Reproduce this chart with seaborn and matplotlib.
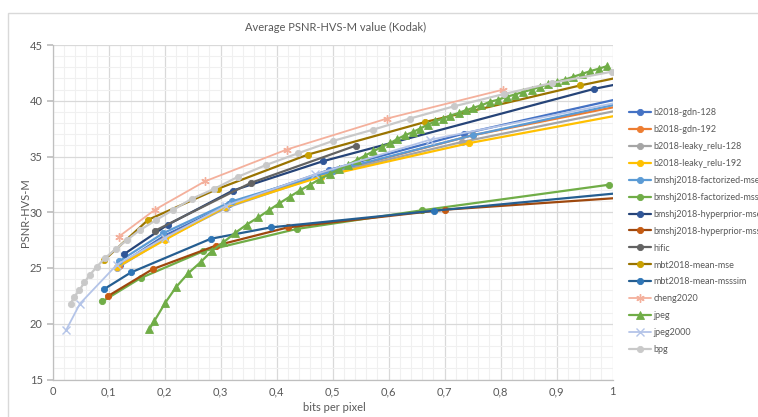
import matplotlib
matplotlib.use("Agg")
import matplotlib.pyplot as plt
import matplotlib.patches as mpatches
from matplotlib.ticker import MultipleLocator, FuncFormatter
import seaborn as sns
import pandas as pd

# ---------------- data ----------------
gdn128_bpp = [0.12, 0.20, 0.315, 0.494, 0.735, 1.08]
gdn128_val = [25.3, 27.9, 30.7, 33.8, 37.06, 40.95]

gdn192_bpp = [0.118, 0.20, 0.31, 0.49, 0.75, 1.08]
gdn192_val = [25.2, 27.7, 30.5, 33.5, 36.9, 40.2]

leaky128_bpp = [0.115, 0.20, 0.31, 0.48, 0.731, 1.08]
leaky128_val = [25.0, 27.6, 30.4, 33.3, 36.3, 39.85]

leaky192_bpp = [0.1146, 0.20, 0.308, 0.48, 0.744, 1.08]
leaky192_val = [25.08, 27.5, 30.47, 33.2, 36.2, 39.35]

factmse_bpp = [0.119, 0.198, 0.32, 0.50, 0.75, 1.08]
factmse_val = [25.6, 28.13, 30.97, 33.7, 36.9, 40.46]

factmsssim_bpp = [0.089, 0.1575, 0.269, 0.436, 0.659, 0.994]
factmsssim_val = [22.0, 24.1, 26.5, 28.5, 30.17, 32.47]

hypmse_bpp = [0.128, 0.2057, 0.3218, 0.4825, 0.9675, 1.05]
hypmse_val = [26.25, 28.88, 31.94, 34.57, 41.07, 41.9]

hypmsssim_bpp = [0.0997, 0.179, 0.2914, 0.42, 0.701, 1.05]
hypmsssim_val = [22.5, 24.9, 27.0, 28.64, 30.23, 31.42]

hific_bpp = [0.183, 0.354, 0.542]
hific_val = [28.34, 32.63, 35.98]

mbtmse_bpp = [0.092, 0.171, 0.295, 0.456, 0.666, 0.942, 1.05]
mbtmse_val = [25.7, 29.33, 32.1, 35.17, 38.1, 41.37, 42.5]

mbtmsssim_bpp = [0.092, 0.140, 0.2825, 0.3896, 0.682, 1.05]
mbtmsssim_val = [23.1, 24.6, 27.62, 28.64, 30.14, 31.9]

cheng_bpp = [0.118, 0.183, 0.272, 0.418, 0.597, 0.805]
cheng_val = [27.8, 30.23, 32.77, 35.62, 38.4, 41.0]

jpeg_bpp = [0.173, 0.182, 0.201, 0.2205, 0.2426, 0.2646, 0.284, 0.305, 0.326,
            0.347, 0.3675, 0.387, 0.405, 0.424, 0.442, 0.46, 0.478, 0.4955,
            0.512, 0.528, 0.543, 0.558, 0.573, 0.588, 0.603, 0.615, 0.629,
            0.644, 0.656, 0.671, 0.683, 0.698, 0.71, 0.725, 0.738, 0.751,
            0.766, 0.781, 0.796, 0.811, 0.826, 0.841, 0.856, 0.87, 0.885,
            0.9, 0.915, 0.93, 0.945, 0.96, 0.975, 0.99]
jpeg_val = [19.5, 20.26, 21.85, 23.28, 24.54, 25.53, 26.5, 27.3, 28.14,
            28.9, 29.54, 30.2, 30.8, 31.4, 31.96, 32.47, 32.99, 33.44,
            33.85, 34.27, 34.66, 35.08, 35.47, 35.86, 36.2, 36.55, 36.9,
            37.2, 37.5, 37.86, 38.16, 38.4, 38.67, 38.9, 39.15, 39.36,
            39.6, 39.9, 40.1, 40.36, 40.56, 40.8, 41.0, 41.25, 41.46,
            41.7, 41.9, 42.15, 42.4, 42.65, 42.87, 43.1]

jp2k_bpp = [0.024, 0.049, 0.115, 0.20, 0.31, 0.469, 0.674, 1.08]
jp2k_val = [19.4, 21.8, 25.3, 27.7, 30.6, 33.4, 36.5, 40.55]

bpg_bpp = [0.0325, 0.0384, 0.048, 0.0568, 0.067, 0.079, 0.094, 0.113, 0.1325,
           0.156, 0.185, 0.215, 0.2485, 0.289, 0.332, 0.382, 0.439, 0.501,
           0.572, 0.638, 0.717, 0.806, 0.8925, 0.9985]
bpg_val = [21.8, 22.4, 23.0, 23.7, 24.4, 25.1, 25.9, 26.7, 27.5,
           28.4, 29.3, 30.2, 31.2, 32.1, 33.2, 34.25, 35.3, 36.4,
           37.4, 38.4, 39.5, 40.6, 41.6, 42.6]

x_ticks = [0, 0.1, 0.2, 0.3, 0.4, 0.5, 0.6, 0.7, 0.8, 0.9, 1.0]
y_ticks = [15, 20, 25, 30, 35, 40, 45]

# ---------------- style ----------------
series = [
    ("b2018-gdn-128", gdn128_bpp, gdn128_val, "#4472C4", "o", "#4472C4"),
    ("b2018-gdn-192", gdn192_bpp, gdn192_val, "#ED7D31", "o", "#ED7D31"),
    ("b2018-leaky_relu-128", leaky128_bpp, leaky128_val, "#A5A5A5", "o", "#A5A5A5"),
    ("b2018-leaky_relu-192", leaky192_bpp, leaky192_val, "#FFC000", "o", "#FFC000"),
    ("bmshj2018-factorized-mse", factmse_bpp, factmse_val, "#5B9BD5", "o", "#5B9BD5"),
    ("bmshj2018-factorized-msssim", factmsssim_bpp, factmsssim_val, "#70AD47", "o", "#70AD47"),
    ("bmshj2018-hyperprior-mse", hypmse_bpp, hypmse_val, "#264478", "o", "#2F5597"),
    ("bmshj2018-hyperprior-msssim", hypmsssim_bpp, hypmsssim_val, "#9E480E", "o", "#C55A11"),
    ("hific", hific_bpp, hific_val, "#636363", "o", "#636363"),
    ("mbt2018-mean-mse", mbtmse_bpp, mbtmse_val, "#997300", "o", "#C9A000"),
    ("mbt2018-mean-msssim", mbtmsssim_bpp, mbtmsssim_val, "#255E91", "o", "#2E75B6"),
    ("cheng2020", cheng_bpp, cheng_val, "#F4B09C", (6, 2, 0), "#F4B09C"),
    ("jpeg", jpeg_bpp, jpeg_val, "#70AD47", "^", "#70AD47"),
    ("jpeg2000", jp2k_bpp, jp2k_val, "#B4C4E8", "x", "#B4C4E8"),
    ("bpg", bpg_bpp, bpg_val, "#C9C9C9", "o", "#C9C9C9"),
]

sns.set_theme(style="white")
plt.rcParams["font.family"] = ["Lato", "DejaVu Sans"]
txt = "#595959"

W, H = 758, 417
fig = plt.figure(figsize=(W / 100, H / 100), dpi=100)
ax = fig.add_axes([52.5 / W, (H - 379.5) / H, 560 / W, 334.5 / H])

# chart border
fig.patches.append(mpatches.Rectangle((8 / W, -0.05), 1.2, (H - 13) / H + 0.05,
                                      transform=fig.transFigure, fill=False,
                                      edgecolor="#D9D9D9", linewidth=1.0))

for name, xs, ys, col, mk, mfc in series:
    df = pd.DataFrame({"bpp": xs, "psnr": ys})
    crossy = (mk == "x") or isinstance(mk, tuple)
    ms = 5.5 if mk == "^" else (6 if crossy else 4.5)
    sns.lineplot(data=df, x="bpp", y="psnr", ax=ax, sort=False, color=col,
                 linewidth=1.3 if crossy else 1.6,
                 marker=mk, markersize=ms, markerfacecolor=mfc,
                 markeredgecolor=col if crossy else mfc,
                 markeredgewidth=1.0 if crossy else 0.6,
                 label=name, estimator=None)

ax.set_xlim(0, 1)
ax.set_ylim(15, 45)
ax.set_xticks(x_ticks)
ax.set_yticks(y_ticks)
ax.xaxis.set_minor_locator(MultipleLocator(0.02))
ax.yaxis.set_minor_locator(MultipleLocator(1))
ax.xaxis.set_major_formatter(FuncFormatter(lambda v, p: ("%g" % round(v, 2)).replace(".", ",")))
ax.grid(which="major", color="#D9D9D9", linewidth=0.9)
ax.grid(which="minor", color="#F0F0F0", linewidth=0.8)
ax.set_axisbelow(True)
for s in ["top", "right"]:
    ax.spines[s].set_visible(False)
for s in ["left", "bottom"]:
    ax.spines[s].set_color("#BFBFBF")
    ax.spines[s].set_linewidth(0.9)
ax.tick_params(axis="y", which="major", length=4, color="#BFBFBF", labelsize=8,
               labelcolor=txt, pad=3, left=True)
ax.tick_params(axis="x", which="major", length=0, labelsize=8, labelcolor=txt, pad=5)
ax.tick_params(which="minor", length=0)

ax.set_xlabel("bits per pixel", fontsize=8, color=txt)
ax.set_ylabel("PSNR-HVS-M", fontsize=8, color=txt)
ax.xaxis.set_label_coords(0.503, -0.068)
ax.yaxis.set_label_coords(-0.038, 0.5)

fig.text(336 / W, 1 - 27 / H, "Average PSNR-HVS-M value (Kodak)", ha="center",
         va="center", fontsize=8, color=txt)

handles, labels = ax.get_legend_handles_labels()
ax.legend(handles, labels, loc="upper left", bbox_to_anchor=(629 / W, 1 - 108 / H),
          bbox_transform=fig.transFigure, frameon=False, fontsize=6.5,
          labelcolor=txt, handlelength=2.4, handletextpad=0.3,
          labelspacing=0.88, borderaxespad=0, borderpad=0)

fig.savefig("out.png", dpi=100)
